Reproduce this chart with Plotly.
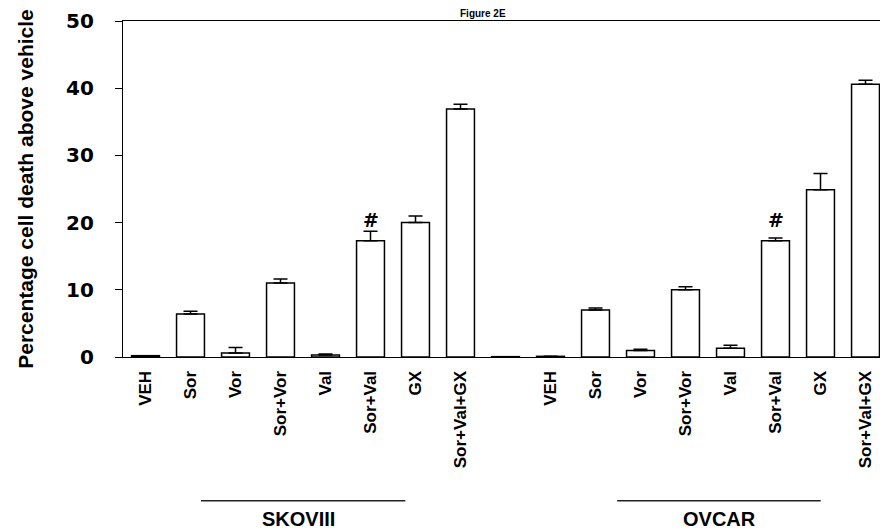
import plotly.graph_objects as go

categories = ["VEH", "Sor", "Vor", "Sor+Vor", "Val", "Sor+Val", "GX", "Sor+Val+GX",
              "",
              "VEH", "Sor", "Vor", "Sor+Vor", "Val", "Sor+Val", "GX", "Sor+Val+GX"]
values = [0.2, 6.4, 0.6, 11.0, 0.3, 17.3, 20.0, 36.9,
          0.05,
          0.1, 7.0, 0.95, 10.0, 1.3, 17.3, 24.9, 40.6]
errors = [0.0, 0.4, 0.8, 0.6, 0.15, 1.4, 1.0, 0.7,
          0.0,
          0.0, 0.3, 0.2, 0.45, 0.45, 0.4, 2.4, 0.6]
groups = ["SKOVIII", "OVCAR"]
marked = [5, 14]  # indices with '#'
title_text = "Figure 2E"
ytitle = "Percentage cell death above vehicle"

xpos = list(range(len(categories)))

fig = go.Figure()
fig.add_trace(go.Bar(
    x=xpos, y=values, width=0.62,
    marker=dict(color="white", line=dict(color="black", width=1.5)),
    error_y=dict(type="data", array=errors, arrayminus=[0] * len(errors), symmetric=False,
                 color="black", thickness=1.5, width=7),
    showlegend=False,
))

sans = "Liberation Sans, Arial, sans-serif"

# page body adds 8px margin; compensate with a slightly smaller figure
fig.update_layout(
    width=880, height=522,
    margin=dict(l=115, r=0, t=13, b=173, autoexpand=False),
    plot_bgcolor="white", paper_bgcolor="white",
    xaxis=dict(range=[-0.5, 16.5], tickvals=xpos, ticktext=categories, tickangle=-90,
               showline=True, linecolor="black", linewidth=1.2, mirror=True,
               ticks="", showgrid=False, zeroline=False, ticklabelstandoff=6,
               automargin=False,
               tickfont=dict(family=sans, size=17, color="black", weight="bold")),
    yaxis=dict(range=[0, 50], tickvals=[0, 10, 20, 30, 40, 50],
               showline=True, linecolor="black", linewidth=1.2, mirror=False,
               ticks="outside", ticklen=7, tickcolor="black", showgrid=False, zeroline=False,
               ticklabelstandoff=17, automargin=False,
               tickfont=dict(family="DejaVu Sans, sans-serif", size=20, color="black", weight="bold"),
               title=dict(text=ytitle, standoff=26,
                          font=dict(family=sans, size=21, color="black", weight="bold"))),
)

for i in marked:
    fig.add_annotation(x=i, y=20.4, xref="x", yref="y", text="#", showarrow=False,
                       font=dict(family="DejaVu Sans, sans-serif", size=19, color="black",
                                 weight="bold"))

fig.add_annotation(x=0.47, y=1, xref="paper", yref="paper", xanchor="center", yanchor="bottom",
                   yshift=0, text=title_text, showarrow=False,
                   font=dict(family=sans, size=10, color="black", weight="bold"))

group_lines = [(0.102, 0.369), (0.646, 0.912)]
group_centers = [0.229, 0.780]
for (x0, x1), xc, name in zip(group_lines, group_centers, groups):
    fig.add_shape(type="line", xref="paper", yref="paper", x0=x0, x1=x1, y0=-0.4277, y1=-0.4277,
                  line=dict(color="#222", width=1.5))
    fig.add_annotation(x=xc, y=-0.4836, xref="paper", yref="paper", xanchor="center",
                       yanchor="middle", text=name, showarrow=False,
                       font=dict(family=sans, size=20, color="black", weight="bold"))

fig.write_html("out.html")
